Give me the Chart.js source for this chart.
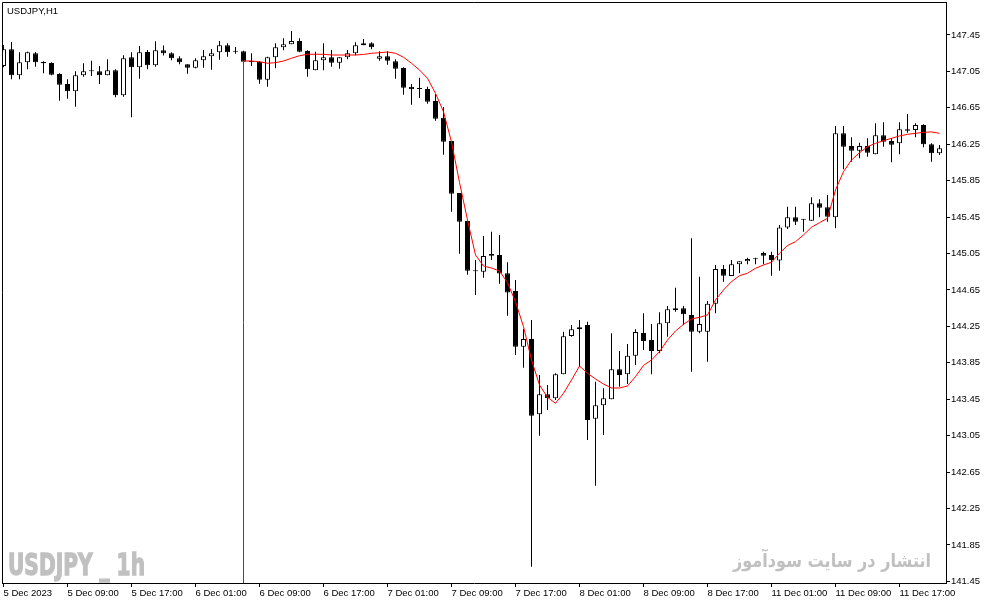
<!DOCTYPE html>
<html>
<head>
<meta charset="utf-8">
<script src="https://cdn.jsdelivr.net/npm/chart.js@4.4.0/dist/chart.umd.min.js"></script>
<style>
  html, body { margin: 0; padding: 0; background: #fff; }
  canvas { display: block; }
</style>
</head>
<body>
<canvas id="priceChart" width="987" height="605"></canvas>
<script>
// USDJPY H1 candles, 5 Dec 2023 01:00 .. 11 Dec 2023 22:00
var opens = [
  147.109, 147.293, 147.007, 147.150, 147.249, 147.153, 147.142, 147.021, 146.912, 146.831,
  147.007, 147.051, 147.051, 147.007, 147.062, 146.787, 147.205, 147.095, 147.263, 147.117,
  147.282, 147.249, 147.194, 147.128, 147.091, 147.172, 147.216, 147.260, 147.337, 147.266,
  147.271, 147.156, 147.156, 146.959, 147.205, 147.315, 147.348, 147.384, 147.274, 147.062,
  147.172, 147.205, 147.146, 147.205, 147.249, 147.337, 147.358, 147.189, 147.216, 147.161,
  147.087, 146.882, 146.860, 146.857, 146.725, 146.542, 146.286, 145.715, 145.407, 144.858,
  144.851, 145.045, 145.034, 144.833, 144.638, 144.027, 144.111, 143.285, 143.504, 143.460,
  143.724, 144.144, 144.218, 144.265, 143.236, 143.383, 143.449, 143.779, 143.724, 143.928,
  144.177, 144.100, 143.980, 144.284, 144.449, 144.449, 144.375, 144.192, 144.192, 144.499,
  144.880, 144.803, 144.932, 144.965, 144.990, 145.056, 145.034, 144.973, 145.336, 145.448,
  145.424, 145.411, 145.602, 145.558, 145.448, 146.370, 146.231, 146.179, 146.231, 146.140,
  146.348, 146.286, 146.260, 146.414, 146.407, 146.461, 146.249, 146.151
];
var highs = [
  147.340, 147.373, 147.260, 147.265, 147.263, 147.161, 147.150, 147.029, 146.963, 147.051,
  147.139, 147.167, 147.109, 147.183, 147.073, 147.227, 147.260, 147.329, 147.285, 147.380,
  147.334, 147.260, 147.216, 147.128, 147.194, 147.285, 147.296, 147.384, 147.358, 147.318,
  147.277, 147.250, 147.164, 147.211, 147.358, 147.413, 147.494, 147.413, 147.282, 147.266,
  147.358, 147.285, 147.205, 147.285, 147.370, 147.406, 147.370, 147.271, 147.271, 147.183,
  147.095, 146.912, 146.981, 146.882, 146.802, 146.659, 146.286, 145.715, 145.407, 144.979,
  145.243, 145.290, 145.254, 144.954, 144.759, 144.221, 144.320, 143.716, 143.606, 143.735,
  144.192, 144.265, 144.320, 144.301, 143.643, 143.570, 144.174, 143.980, 144.057, 144.218,
  144.394, 144.276, 144.405, 144.474, 144.675, 144.474, 145.217, 144.796, 144.529, 144.924,
  144.924, 144.979, 144.965, 145.004, 145.004, 145.070, 145.070, 145.363, 145.564, 145.564,
  145.430, 145.668, 145.646, 145.693, 146.450, 146.450, 146.326, 146.267, 146.315, 146.480,
  146.491, 146.315, 146.491, 146.582, 146.480, 146.469, 146.260, 146.242
];
var lows = [
  147.095, 146.963, 146.963, 147.073, 147.102, 147.029, 147.007, 146.728, 146.750, 146.662,
  146.992, 146.999, 146.912, 147.007, 146.766, 146.772, 146.546, 146.970, 147.073, 147.102,
  147.225, 147.172, 147.128, 147.025, 147.084, 147.091, 147.069, 147.178, 147.211, 147.244,
  147.156, 147.110, 146.915, 146.882, 147.084, 147.282, 147.348, 147.260, 146.992, 147.062,
  147.062, 147.102, 147.080, 147.183, 147.227, 147.337, 147.293, 147.167, 147.124, 146.970,
  146.794, 146.684, 146.758, 146.695, 146.509, 146.135, 145.509, 145.048, 144.818, 144.595,
  144.785, 144.979, 144.719, 144.367, 143.936, 143.796, 141.611, 143.050, 143.332, 143.442,
  143.724, 144.137, 143.807, 143.002, 142.501, 143.057, 143.449, 143.588, 143.617, 143.826,
  143.991, 143.724, 143.954, 144.137, 144.411, 144.265, 143.752, 144.174, 143.862, 144.394,
  144.741, 144.803, 144.833, 144.932, 144.932, 144.932, 144.807, 144.861, 145.319, 145.363,
  145.290, 145.411, 145.448, 145.400, 145.327, 145.975, 146.058, 146.096, 146.113, 146.140,
  146.223, 146.052, 146.140, 146.377, 146.326, 146.217, 146.058, 146.132
];
var closes = [
  147.293, 147.007, 147.150, 147.260, 147.150, 147.139, 147.014, 146.904, 146.831, 147.007,
  147.051, 147.052, 147.007, 147.062, 146.787, 147.194, 147.095, 147.260, 147.117, 147.282,
  147.249, 147.194, 147.150, 147.091, 147.172, 147.216, 147.249, 147.337, 147.260, 147.267,
  147.156, 147.153, 146.959, 147.205, 147.315, 147.348, 147.384, 147.266, 147.073, 147.172,
  147.205, 147.146, 147.205, 147.249, 147.337, 147.358, 147.315, 147.216, 147.167, 147.080,
  146.871, 146.853, 146.858, 146.717, 146.531, 146.278, 145.707, 145.400, 144.861, 144.856,
  145.023, 145.026, 144.831, 144.622, 144.027, 144.111, 143.269, 143.504, 143.460, 143.724,
  144.141, 144.218, 144.240, 143.222, 143.383, 143.460, 143.779, 143.716, 143.928, 144.188,
  144.090, 143.980, 144.284, 144.438, 144.430, 144.383, 144.192, 144.276, 144.499, 144.880,
  144.807, 144.932, 144.965, 144.990, 144.988, 145.026, 144.979, 145.336, 145.448, 145.400,
  145.422, 145.602, 145.553, 145.454, 146.370, 146.223, 146.179, 146.231, 146.157, 146.348,
  146.278, 146.245, 146.414, 146.399, 146.461, 146.249, 146.151, 146.205
];

// moving average, first value sits on bar 30 (empty buffer value before it)
var maFirstBar = 30;
var maEmptyValue = 0;
var maValues = [
  147.164, 147.164, 147.156, 147.139, 147.146, 147.164, 147.194, 147.222, 147.238, 147.238,
  147.238, 147.230, 147.230, 147.230, 147.230, 147.236, 147.249, 147.255, 147.263, 147.249,
  147.205, 147.139, 147.065, 146.974, 146.809, 146.607, 146.275, 145.830, 145.418, 145.034,
  144.913, 144.891, 144.858, 144.730, 144.520, 144.247, 143.881, 143.606, 143.471, 143.405,
  143.515, 143.661, 143.815, 143.735, 143.672, 143.617, 143.573, 143.573, 143.595, 143.698,
  143.821, 143.881, 143.972, 144.100, 144.199, 144.273, 144.331, 144.350, 144.375, 144.540,
  144.650, 144.741, 144.807, 144.833, 144.888, 144.924, 144.954, 145.053, 145.138, 145.180,
  145.254, 145.338, 145.389, 145.437, 145.748, 145.949, 146.077, 146.157, 146.223, 146.260,
  146.289, 146.315, 146.341, 146.359, 146.370, 146.381, 146.385, 146.370
];

var xTickBars = [0, 8, 16, 24, 32, 40, 48, 56, 64, 72, 80, 88, 96, 104, 112];
var xTickLabels = ["5 Dec 2023", "5 Dec 09:00", "5 Dec 17:00", "6 Dec 01:00", "6 Dec 09:00",
  "6 Dec 17:00", "7 Dec 01:00", "7 Dec 09:00", "7 Dec 17:00", "8 Dec 01:00", "8 Dec 09:00",
  "8 Dec 17:00", "11 Dec 01:00", "11 Dec 09:00", "11 Dec 17:00"];
var yTickValues = [141.45, 141.85, 142.25, 142.65, 143.05, 143.45, 143.85, 144.25,
  144.65, 145.05, 145.45, 145.85, 146.25, 146.65, 147.05, 147.45];

document.addEventListener("DOMContentLoaded", function() {
  Chart.defaults.font.family = "'Liberation Sans', Arial, sans-serif";
  Chart.defaults.font.size = 9.5;
  Chart.defaults.color = "#000";

  var wicks = [], bodies = [], bodyColors = [];
  for (var i = 0; i < opens.length; i++) {
    wicks.push({ x: i, y: [lows[i], highs[i]] });
    bodies.push({ x: i, y: [Math.min(opens[i], closes[i]), Math.max(opens[i], closes[i])] });
    bodyColors.push(closes[i] >= opens[i] ? "#ffffff" : "#000000");
  }

  var maPoints = [{ x: maFirstBar, y: maEmptyValue }];
  maValues.forEach(function(v, k) {
    maPoints.push({ x: maFirstBar + k, y: v });
  });

  // frame, title and the two watermarks
  var decorations = {
    id: "decorations",
    beforeDatasetsDraw: function(chart) {
      var ctx = chart.ctx, a = chart.chartArea;
      ctx.save();
      ctx.fillStyle = "#c0c0c0";
      ctx.strokeStyle = "#c0c0c0";
      ctx.textBaseline = "alphabetic";

      ctx.font = "bold 31px 'Liberation Sans Narrow', 'DejaVu Sans Condensed', 'Liberation Sans', sans-serif";
      var t1 = "USDJPY _ 1h";
      var w1 = ctx.measureText(t1).width;
      ctx.save();
      ctx.translate(a.left + 6, a.bottom - 8);
      ctx.scale(137 / w1, 1);
      ctx.textAlign = "left";
      ctx.lineWidth = 1.3;
      ctx.fillText(t1, 0, 0);
      ctx.strokeText(t1, 0, 0);
      ctx.restore();

      ctx.font = "bold 19px 'DejaVu Sans', 'Noto Sans', sans-serif";
      ctx.direction = "rtl";
      var t2 = "انتشار در سایت سودآموز";
      var w2 = ctx.measureText(t2).width;
      ctx.save();
      ctx.translate(a.right - 15, a.bottom - 16);
      ctx.scale(198 / w2, 1);
      ctx.textAlign = "right";
      ctx.fillText(t2, 0, 0);
      ctx.restore();
      ctx.restore();
    },
    afterDraw: function(chart) {
      var ctx = chart.ctx, a = chart.chartArea;
      ctx.save();
      ctx.strokeStyle = "#000";
      ctx.lineWidth = 1;
      ctx.beginPath();
      ctx.moveTo(a.left + 0.5, a.bottom);
      ctx.lineTo(a.left + 0.5, a.top + 0.5);
      ctx.lineTo(a.right, a.top + 0.5);
      ctx.stroke();
      ctx.fillStyle = "#000";
      ctx.font = "9.5px 'Liberation Sans', Arial, sans-serif";
      ctx.textBaseline = "middle";
      ctx.fillText("USDJPY,H1", a.left + 5, a.top + 9);
      ctx.restore();
    }
  };

  var ctx = document.getElementById("priceChart").getContext("2d");
  new Chart(ctx, {
    type: "bar",
    data: {
      datasets: [
        {
          type: "line",
          label: "MA",
          data: maPoints,
          borderColor: "#ff0000",
          borderWidth: 1,
          pointRadius: 0,
          tension: 0,
          fill: false,
          order: 0
        },
        {
          label: "body",
          data: bodies,
          backgroundColor: bodyColors,
          borderColor: "#000",
          borderWidth: 1,
          borderSkipped: false,
          barThickness: 5,
          minBarLength: 1,
          inflateAmount: 0,
          grouped: false,
          order: 1
        },
        {
          label: "wick",
          data: wicks,
          backgroundColor: "#000",
          borderWidth: 0,
          barThickness: 1,
          inflateAmount: 0,
          grouped: false,
          order: 2
        }
      ]
    },
    options: {
      responsive: false,
      devicePixelRatio: 1,
      animation: false,
      layout: { padding: { left: 2, top: 2, right: 0, bottom: 0 } },
      plugins: { legend: { display: false }, tooltip: { enabled: false } },
      scales: {
        x: {
          type: "linear",
          offset: false,
          min: -0.1875,
          max: 117.8125,
          grid: { offset: false, drawOnChartArea: false, drawTicks: true, tickLength: 4, color: "#000" },
          border: { display: true, color: "#000" },
          afterBuildTicks: function(scale) {
            scale.ticks = xTickBars.map(function(b) { return { value: b }; });
          },
          afterFit: function(scale) {
            scale.height = 22;
            scale.paddingLeft = 0;
            scale.paddingRight = 0;
          },
          ticks: {
            autoSkip: false,
            maxRotation: 0,
            align: "start",
            padding: 1,
            callback: function(value, index) { return xTickLabels[index]; }
          }
        },
        y: {
          position: "right",
          min: 141.432,
          max: 147.812,
          grid: { drawOnChartArea: false, drawTicks: true, tickLength: 4, color: "#000" },
          border: { display: true, color: "#000" },
          afterBuildTicks: function(scale) {
            scale.ticks = yTickValues.map(function(v) { return { value: v }; });
          },
          afterFit: function(scale) {
            scale.width = 41;
            scale.paddingTop = 0;
            scale.paddingBottom = 0;
          },
          ticks: {
            padding: 1,
            callback: function(value) { return Number(value).toFixed(2); }
          }
        }
      }
    },
    plugins: [decorations]
  });
});
</script>
</body>
</html>
